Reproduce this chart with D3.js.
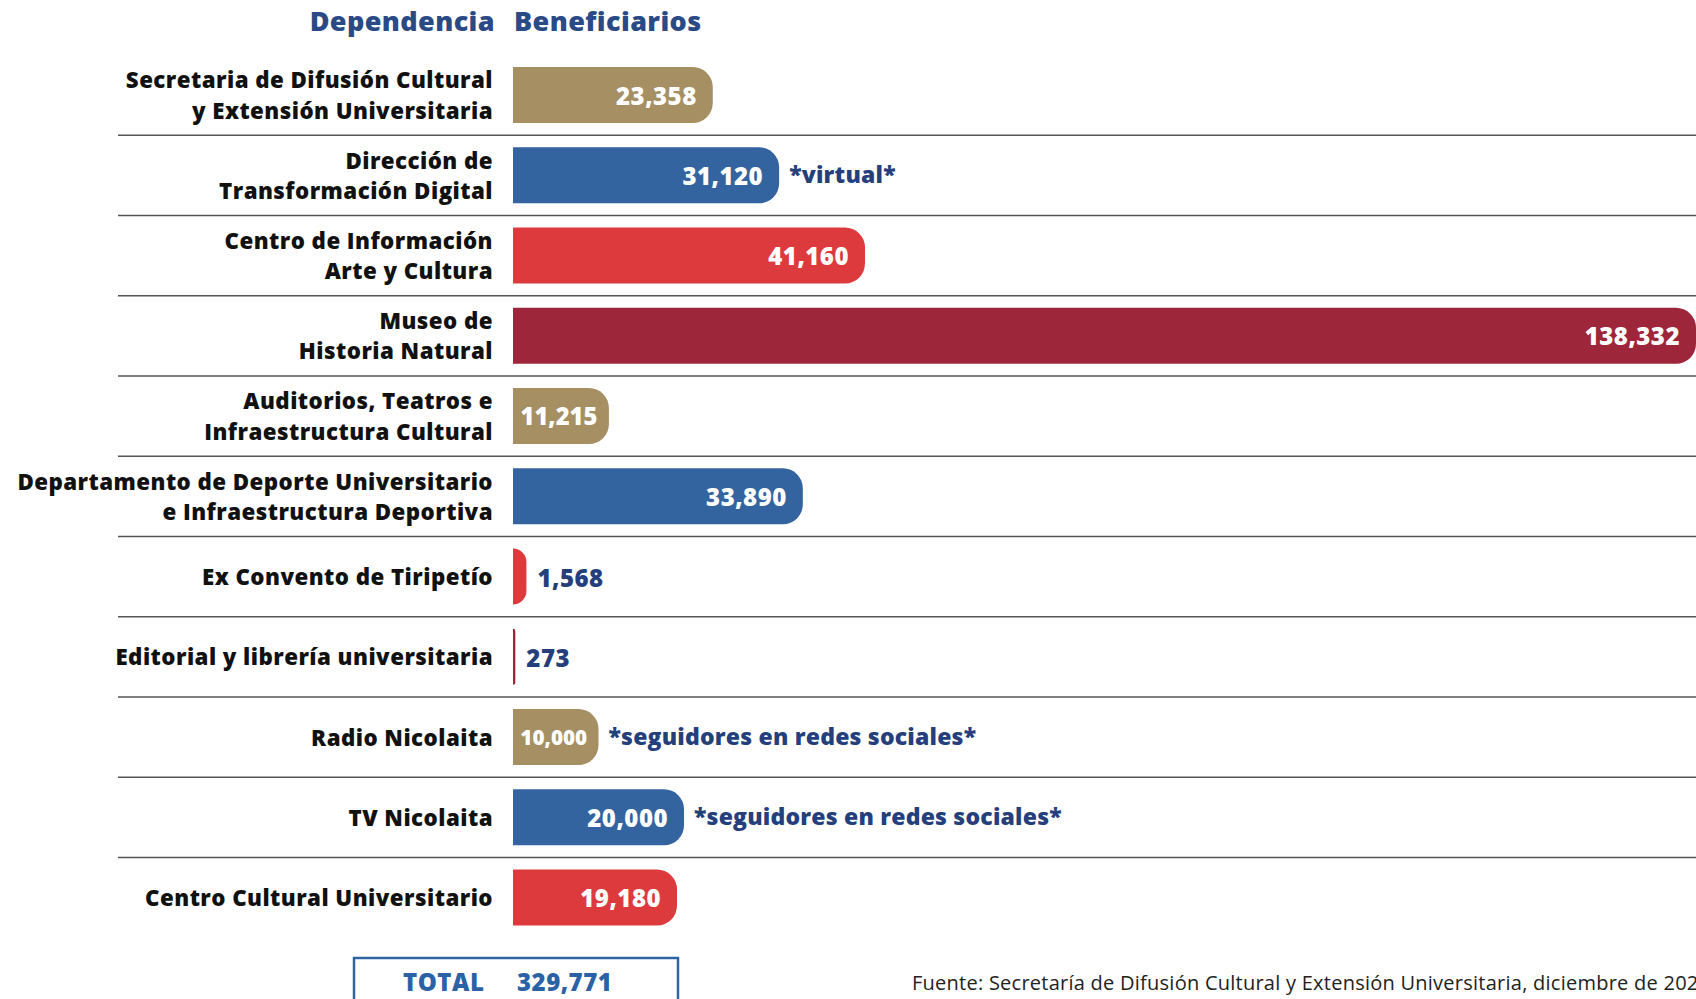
<!DOCTYPE html>
<html><head><meta charset="utf-8">
<script src="https://cdn.jsdelivr.net/npm/d3@7"></script>
<style>body{margin:0;background:#fff;overflow:hidden} svg{display:block}</style>
</head><body>
<script>
const categories = [
  ["Secretaria de Difusión Cultural", "y Extensión Universitaria"],
  ["Dirección de ", "Transformación Digital"],
  ["Centro de Información", "Arte y Cultura"],
  ["Museo de", "Historia Natural"],
  ["Auditorios, Teatros e", "Infraestructura Cultural"],
  ["Departamento de Deporte Universitario", "e Infraestructura Deportiva"],
  ["Ex Convento de Tiripetío"],
  ["Editorial y librería universitaria"],
  ["Radio Nicolaita"],
  ["TV Nicolaita"],
  ["Centro Cultural Universitario"]
];
const values = [23358, 31120, 41160, 138332, 11215, 33890, 1568, 273, 10000, 20000, 19180];
const barColors = ["#A58F63", "#3364A0", "#DD3A3E", "#9E263A", "#A58F63", "#3364A0", "#DD3A3E", "#9E263A", "#A58F63", "#3364A0", "#DD3A3E"];
const notes = ["", "*virtual*", "", "", "", "", "", "", "*seguidores en redes sociales*", "*seguidores en redes sociales*", ""];
const headers = ["Dependencia", "Beneficiarios"];
const totalLabel = "TOTAL";
const totalValue = 329771;
const source = "Fuente: Secretaría de Difusión Cultural y Extensión Universitaria, diciembre de 2024";

const W = 1696, H = 999;
const FONT = "'Open Sans', 'DejaVu Sans', sans-serif";
const NAVY = "#243F7C";
const fmt = d3.format(",");

const svg = d3.select("body").append("svg").attr("width", W).attr("height", H)
  .style("font-family", FONT);

const x = d3.scaleLinear().domain([0, d3.max(values)]).range([513, W]);
const y = d3.scaleBand().domain(d3.range(values.length))
  .range([54.9, 54.9 + 80.25 * values.length]).paddingInner(0.302).paddingOuter(0.151);
const step = y.step(), bw = y.bandwidth();

// headers
svg.append("text").attr("x", 495).attr("y", 20).attr("text-anchor", "end")
  .attr("dominant-baseline", "central").attr("font-size", 27).attr("font-weight", 800)
  .attr("letter-spacing", 0.4).attr("fill", "#2A4A86").text(headers[0]);
svg.append("text").attr("x", 514).attr("y", 20).attr("text-anchor", "start")
  .attr("dominant-baseline", "central").attr("font-size", 27).attr("font-weight", 800)
  .attr("letter-spacing", 0.4).attr("fill", "#2A4A86").text(headers[1]);

// separators
svg.append("g").selectAll("line").data(d3.range(1, values.length)).join("line")
  .attr("x1", 118).attr("x2", W)
  .attr("y1", i => y(i) - step * y.paddingInner() / 2)
  .attr("y2", i => y(i) - step * y.paddingInner() / 2)
  .attr("stroke", "#555").attr("stroke-width", 1.5);

// category labels (one text per line)
const lg = svg.append("g");
categories.forEach((lines, i) => {
  const cy = y(i) + bw / 2;
  const n = lines.length;
  lines.forEach((line, k) => {
    lg.append("text")
      .attr("x", 493)
      .attr("y", cy + (k - (n - 1) / 2) * 30.4)
      .attr("text-anchor", "end").attr("dominant-baseline", "central")
      .attr("font-size", 22.3).attr("font-weight", 800)
      .attr("letter-spacing", 0.45).attr("fill", "#111")
      .text(line);
  });
});

// bars
function barPath(x0, x1, y0, y1) {
  const w = x1 - x0;
  const r = Math.min(20, w, (y1 - y0) / 2);
  return `M${x0},${y0}H${x1 - r}A${r},${r} 0 0 1 ${x1},${y0 + r}V${y1 - r}A${r},${r} 0 0 1 ${x1 - r},${y1}H${x0}Z`;
}
svg.append("g").selectAll("path").data(values).join("path")
  .attr("d", (v, i) => barPath(x(0), x(v), y(i), y(i) + bw))
  .attr("fill", (v, i) => barColors[i]);

// value labels
const vg = svg.append("g");
values.forEach((v, i) => {
  const cy = y(i) + bw / 2;
  const w = x(v) - x(0);
  let endX;
  if (w > 60) {
    const t = vg.append("text").attr("x", x(v) - 16).attr("y", cy)
      .attr("text-anchor", "end").attr("dominant-baseline", "central")
      .attr("font-size", 24).attr("font-weight", 800).attr("letter-spacing", 0.5)
      .attr("fill", "#fff").text(fmt(v));
    const tw = t.node().getComputedTextLength();
    if (tw > w - 28) {
      const fs = 24 * (w - 16) / tw;
      t.attr("font-size", fs).attr("letter-spacing", 0).attr("text-anchor", "middle")
        .attr("x", x(0) + w / 2 - 2);
    }
    endX = x(v) + 10;
  } else {
    const t = vg.append("text").attr("x", x(v) + 11).attr("y", cy + 1)
      .attr("text-anchor", "start").attr("dominant-baseline", "central")
      .attr("font-size", 24).attr("font-weight", 800).attr("letter-spacing", 0.5)
      .attr("fill", NAVY).text(fmt(v));
    endX = x(v) + 10 + t.node().getComputedTextLength() + 10;
  }
  if (notes[i]) {
    vg.append("text").attr("x", endX).attr("y", cy - 1)
      .attr("text-anchor", "start").attr("dominant-baseline", "central")
      .attr("font-size", 23).attr("font-weight", 800).attr("letter-spacing", 0.2)
      .attr("fill", NAVY).text(notes[i]);
  }
});

// total box
svg.append("rect").attr("x", 354).attr("y", 958).attr("width", 324).attr("height", 60)
  .attr("fill", "none").attr("stroke", "#2E63A5").attr("stroke-width", 2.5);
svg.append("text").attr("x", 403).attr("y", 981).attr("dominant-baseline", "central")
  .attr("font-size", 24).attr("font-weight", 800).attr("letter-spacing", 0.5)
  .attr("fill", "#2B62A6").text(totalLabel);
svg.append("text").attr("x", 517).attr("y", 981).attr("dominant-baseline", "central")
  .attr("font-size", 24).attr("font-weight", 800).attr("letter-spacing", 0.5)
  .attr("fill", "#2B62A6").text(fmt(totalValue));

// source
svg.append("text").attr("x", 912).attr("y", 982).attr("dominant-baseline", "central")
  .attr("font-size", 20).attr("font-weight", 400).attr("letter-spacing", 0.25)
  .attr("fill", "#222").text(source);
</script>
</body></html>
